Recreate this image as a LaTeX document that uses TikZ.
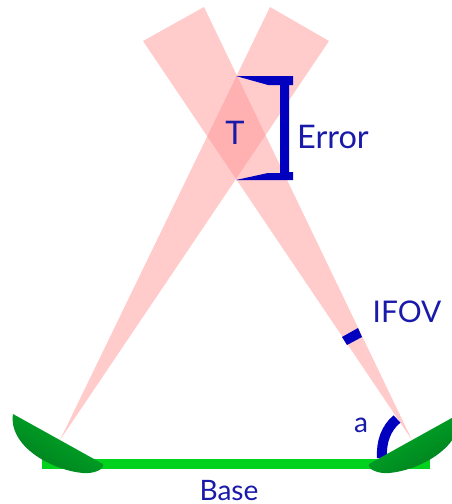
\documentclass[tikz,border=0pt]{standalone}
\usepackage{fontspec}
\setmainfont{Lato}
\usepackage{xcolor}
\definecolor{beamred}{RGB}{255,151,151}
\definecolor{markblue}{RGB}{0,0,190}
\definecolor{textblue}{RGB}{25,25,170}
\definecolor{basegreen}{RGB}{0,210,30}
\definecolor{lensdark}{RGB}{0,125,30}
\definecolor{lenslight}{RGB}{0,175,40}
\usetikzlibrary{positioning}

\begin{document}
\begin{tikzpicture}[
  x=0.02cm, y=-0.02cm,
  font=\fontsize{16}{18}\selectfont,
  beam/.style={fill=beamred, opacity=0.5},
  lens/.style={shade, top color=lenslight, bottom color=lensdark},
  label/.style={text=textblue, inner sep=0pt}
]
\clip (0,0) rectangle (452,504);

%% --- beams ---
\fill[beam] (60,440) -- (270,7) -- (329,41) -- cycle;
\fill[beam] (412,440) -- (204,7) -- (143,41) -- cycle;

%% --- base ---
\node[fill=basegreen, minimum width=7.76cm, minimum height=0.2cm, inner sep=0pt]
  (base) at (236,464) {};
\node[label, below=0.21cm of base.south, xshift=-0.14cm] (basetxt) {Base};

%% --- error bracket ---
\fill[markblue] (236,76) -- (293,76) -- (293,85) -- (289,85) -- (289,172)
  -- (293,172) -- (293,180) -- (236,180) -- (268,173) -- (280,173)
  -- (280,85) -- (268,85) -- cycle;
\node[label, font=\fontsize{18.5}{20}\selectfont] (target) at (235,133) {T};
\node[label, font=\fontsize{18.5}{20}\selectfont] (errtxt) at (333,137) {Error};

%% --- field of view ---
\fill[markblue] (342,337) -- (358,328) -- (362,337) -- (347,345) -- cycle;
\node[label, font=\fontsize{17}{20}\selectfont] (ifov) at (407,312) {IFOV};

%% --- angle ---
\draw[markblue, line width=0.2cm] (397,419) .. controls (386,428) and (381,442) .. (382,458);
\node[label] (angle) at (361,425) {a};

%% --- lenses ---
\path[lens, shading angle=-30] (13,414) -- (103,464) .. controls (105,470) and (92,474) .. (83,473)
  .. controls (50,470) and (8,445) .. (13,414) -- cycle;
\path[lens, shading angle=30] (459,414) -- (369,464) .. controls (367,470) and (380,474) .. (389,473)
  .. controls (422,470) and (464,445) .. (459,414) -- cycle;
\end{tikzpicture}
\end{document}
